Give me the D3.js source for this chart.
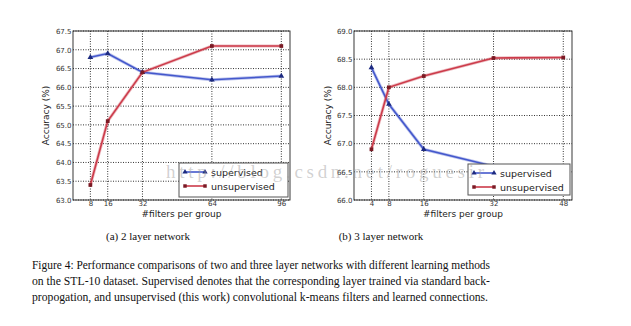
<!DOCTYPE html>
<html><head><meta charset="utf-8">
<script src="https://cdn.jsdelivr.net/npm/d3@7"></script>
<style>body{margin:0;background:#fff}svg{display:block}</style>
</head><body>
<svg id="c" width="631" height="326"></svg>
<script>
// Panel (a): 2 layer network
const filtersA = [8, 16, 32, 64, 96];
const supervisedA = [66.8, 66.9, 66.4, 66.2, 66.3];
const unsupervisedA = [63.4, 65.1, 66.4, 67.1, 67.1];
const yTicksA = [63.0, 63.5, 64.0, 64.5, 65.0, 65.5, 66.0, 66.5, 67.0, 67.5];
// Panel (b): 3 layer network
const filtersB = [4, 8, 16, 32, 48];
const supervisedB = [68.35, 67.7, 66.9, 66.6, 66.5];
const unsupervisedB = [66.9, 68.0, 68.2, 68.52, 68.53];
const yTicksB = [66.0, 66.5, 67.0, 67.5, 68.0, 68.5, 69.0];
const seriesNames = ["supervised", "unsupervised"];
const subCaptions = ["(a) 2 layer network", "(b) 3 layer network"];
const captionLines = [
  "Figure 4: Performance comparisons of two and three layer networks with different learning methods",
  "on the STL-10 dataset. Supervised denotes that the corresponding layer trained via standard back-",
  "propogation, and unsupervised (this work) convolutional k-means filters and learned connections."
];
const watermark = "http://blog.csdn.net/roguesir";

const svg = d3.select("#c");
const blue = "#4458cc", red = "#cc3b4a";
const blueDark = "#1c2a80", redDark = "#7a1a24";

function panel(cfg) {
  const x = d3.scaleLinear().domain(cfg.xDomain).range([cfg.x0, cfg.x1]);
  const y = d3.scaleLinear().domain(cfg.yDomain).range([cfg.y1, cfg.y0]);
  const g = svg.append("g");
  // grid
  g.selectAll(".gx").data(cfg.xs).join("line")
    .attr("x1", d => x(d)).attr("x2", d => x(d)).attr("y1", cfg.y0).attr("y2", cfg.y1)
    .attr("stroke", "#000").attr("stroke-width", 0.8).attr("stroke-dasharray", "1,1.5");
  g.selectAll(".gy").data(cfg.yTicks).join("line")
    .attr("x1", cfg.x0).attr("x2", cfg.x1).attr("y1", d => y(d)).attr("y2", d => y(d))
    .attr("stroke", "#000").attr("stroke-width", 0.8).attr("stroke-dasharray", "1,1.5");
  // axes
  const ax = g.append("g").attr("transform", `translate(0,${cfg.y1})`)
    .call(d3.axisBottom(x).tickValues(cfg.xs).tickSize(0).tickPadding(1.5));
  const ay = g.append("g").attr("transform", `translate(${cfg.x0},0)`)
    .call(d3.axisLeft(y).tickValues(cfg.yTicks).tickFormat(d3.format(".1f")).tickSize(0).tickPadding(1.5));
  [ax, ay].forEach(a => {
    a.select(".domain").remove();
    a.selectAll("text").attr("font-family", "DejaVu Sans").attr("font-size", 7).attr("fill", "#333");
  });
  g.append("rect").attr("x", cfg.x0).attr("y", cfg.y0).attr("width", cfg.x1 - cfg.x0).attr("height", cfg.y1 - cfg.y0)
    .attr("fill", "none").attr("stroke", "#222").attr("stroke-width", 0.9);
  // lines
  const line = d3.line().x(d => x(d[0])).y(d => y(d[1]));
  const sets = [
    {vals: cfg.sup, c: blue, m: blueDark, sym: d3.symbolTriangle},
    {vals: cfg.uns, c: red, m: redDark, sym: d3.symbolSquare}
  ];
  sets.forEach(s => {
    const pts = cfg.xs.map((v, i) => [v, s.vals[i]]);
    g.append("path").datum(pts).attr("d", line).attr("fill", "none")
      .attr("stroke", s.c).attr("stroke-opacity", 0.35).attr("stroke-width", 3.2);
    g.append("path").datum(pts).attr("d", line).attr("fill", "none")
      .attr("stroke", s.c).attr("stroke-width", 1.6);
    g.selectAll(null).data(pts).join("path")
      .attr("transform", d => `translate(${x(d[0])},${y(d[1])})`)
      .attr("d", d3.symbol().type(s.sym).size(14)).attr("fill", s.m);
  });
  // labels
  g.append("text").attr("x", (cfg.x0 + cfg.x1) / 2).attr("y", 216.5).attr("text-anchor", "middle")
    .attr("font-family", "DejaVu Sans").attr("font-size", 9).attr("fill", "#222").text("#filters per group");
  g.append("text").attr("transform", `translate(${cfg.ylx},${(cfg.y0 + cfg.y1) / 2}) rotate(-90)`)
    .attr("text-anchor", "middle").attr("font-family", "DejaVu Sans").attr("font-size", 9).attr("fill", "#222")
    .text("Accuracy (%)");
  // legend
  const L = cfg.leg;
  g.append("rect").attr("x", L.x).attr("y", L.y).attr("width", L.w).attr("height", L.h)
    .attr("fill", "#fff").attr("stroke", "#555").attr("stroke-width", 1);
  sets.forEach((s, i) => {
    const yy = L.y + 9 + i * 14;
    g.append("line").attr("x1", L.x + 6).attr("x2", L.x + 26).attr("y1", yy).attr("y2", yy)
      .attr("stroke", s.c).attr("stroke-width", 1.6);
    [L.x + 6, L.x + 26].forEach(px => g.append("path").attr("transform", `translate(${px},${yy})`)
      .attr("d", d3.symbol().type(s.sym).size(12)).attr("fill", s.m));
    g.append("text").attr("x", L.x + 32).attr("y", yy + 3.5).attr("font-family", "DejaVu Sans")
      .attr("font-size", 9.5).attr("fill", "#222").text(seriesNames[i]);
  });
  // sub caption
  svg.append("text").attr("x", cfg.capX).attr("y", 240).attr("text-anchor", "middle")
    .attr("font-family", "Liberation Serif").attr("font-size", 11).attr("fill", "#111").text(cfg.cap);
}

panel({x0: 73, x1: 290, y0: 31, y1: 200, xDomain: [0, 100], yDomain: [63, 67.5],
  xs: filtersA, sup: supervisedA, uns: unsupervisedA, yTicks: yTicksA, ylx: 49,
  leg: {x: 179, y: 163, w: 109, h: 34}, capX: 148, cap: subCaptions[0]});
panel({x0: 354, x1: 572, y0: 31, y1: 200, xDomain: [0, 50], yDomain: [66, 69],
  xs: filtersB, sup: supervisedB, uns: unsupervisedB, yTicks: yTicksB, ylx: 331,
  leg: {x: 468, y: 164, w: 102, h: 31}, capX: 381, cap: subCaptions[1]});

// watermark
svg.append("text").attr("x", 166).attr("y", 178).attr("font-family", "Liberation Serif")
  .attr("font-size", 19).attr("fill", "#999").attr("fill-opacity", 0.45)
  .attr("textLength", 318).text(watermark);

// caption
svg.selectAll(".cap").data(captionLines).join("text")
  .attr("x", 32).attr("y", (d, i) => 269 + i * 16)
  .attr("font-family", "Liberation Serif").attr("font-size", 12.5).attr("fill", "#111")
  .attr("textLength", (d, i) => i === 2 ? 456 : 458).attr("lengthAdjust", "spacingAndGlyphs")
  .text(d => d);
</script>
</body></html>
